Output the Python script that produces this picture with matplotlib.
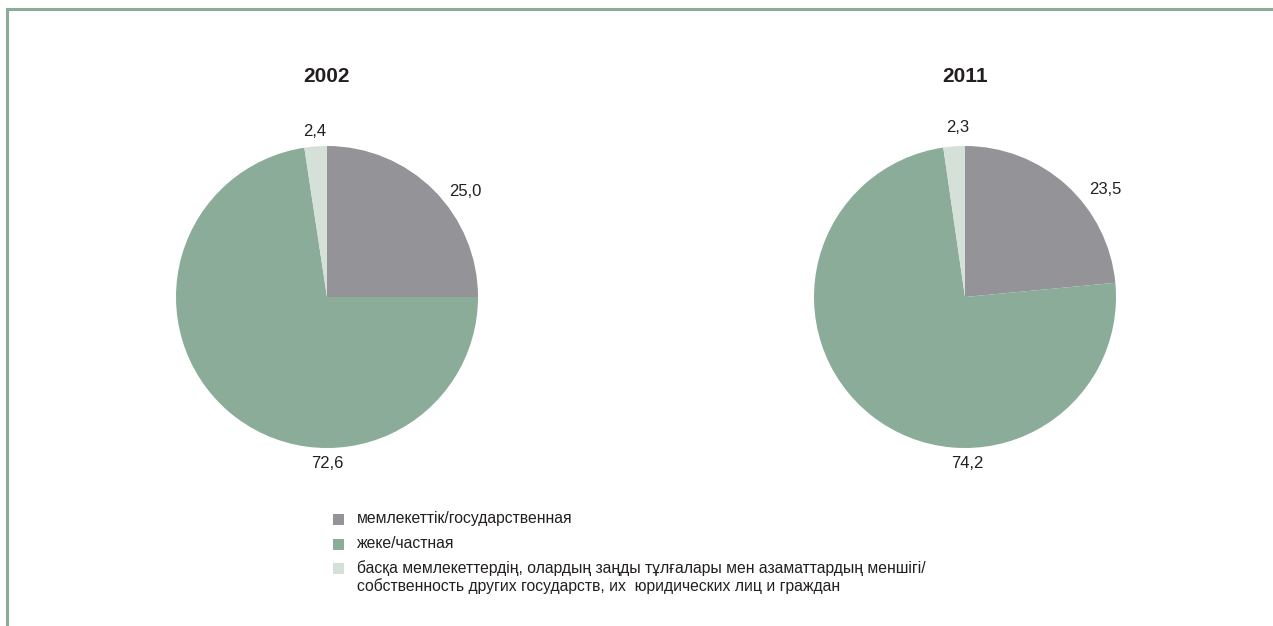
import matplotlib
matplotlib.use("Agg")
import matplotlib.pyplot as plt
from matplotlib.patches import Rectangle
from matplotlib.lines import Line2D

plt.rcParams['font.family'] = ['Liberation Sans', 'DejaVu Sans']

years = ["2002", "2011"]
categories = ["мемлекеттік/государственная",
              "жеке/частная",
              "басқа мемлекеттердің, олардың заңды тұлғалары мен азаматтардың меншігі/\nсобственность других государств, их  юридических лиц и граждан"]
values_2002 = [25.0, 72.6, 2.4]
values_2011 = [23.5, 74.2, 2.3]
series = [values_2002, values_2011]
labels_txt = [["25,0", "72,6", "2,4"], ["23,5", "74,2", "2,3"]]

colors = ["#939398", "#8aac98", "#d5e0d8"]
text_color = "#231f20"
W, H = 1273, 626

fig = plt.figure(figsize=(W / 100, H / 100), dpi=100)

# frame lines (top and left)
fig.add_artist(Line2D([7 / W, 1], [1 - 9 / H, 1 - 9 / H], color="#8aac98", lw=2.2, transform=fig.transFigure))
fig.add_artist(Line2D([7 / W, 7 / W], [0, 1 - 9 / H], color="#8aac98", lw=2.2, transform=fig.transFigure))

centers = [(327, 297), (965, 297)]
R = 151
# label pixel positions (gray, green, light)
label_pos = [[(465, 191), (327, 463), (315, 131)],
             [(1105, 189), (967, 463), (958, 127)]]
title_pos = [(327, 77), (965, 77)]

for i, (cx, cy) in enumerate(centers):
    ax = fig.add_axes([(cx - R) / W, (H - cy - R) / H, 2 * R / W, 2 * R / H])
    ax.pie(series[i], colors=colors, startangle=90, counterclock=False,
           radius=1, wedgeprops=dict(linewidth=0))
    ax.set_xlim(-1, 1)
    ax.set_ylim(-1, 1)
    ax.set_aspect('auto')
    ax.axis('off')
    for t, (px, py) in zip(labels_txt[i], label_pos[i]):
        fig.text(px / W, 1 - py / H, t, ha='center', va='center', fontsize=12, color=text_color)
    tx, ty = title_pos[i]
    fig.text(tx / W, 1 - ty / H, years[i], ha='center', va='center', fontsize=15,
             fontweight='bold', color=text_color)

# legend
leg_y = [519, 544, 568]
for c, lab, y in zip(colors, categories, leg_y):
    fig.add_artist(Rectangle((333 / W, 1 - (y + 5.5) / H), 11 / W, 11 / H,
                             facecolor=c, edgecolor='none', transform=fig.transFigure))
    fig.text(357 / W, 1 - (y - 8) / H, lab, ha='left', va='top', fontsize=11.3,
             color=text_color, linespacing=1.15)

fig.savefig("out.png", dpi=100)
